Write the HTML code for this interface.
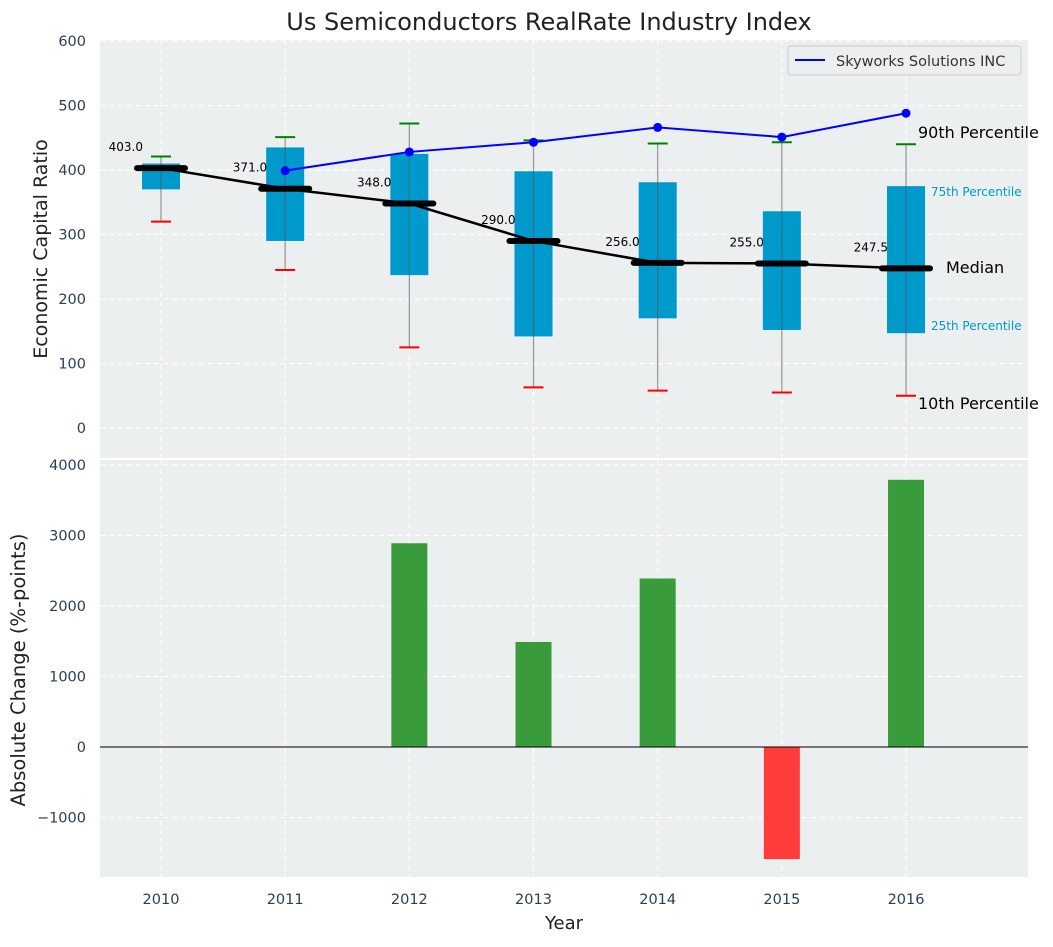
<!DOCTYPE html>
<html><head><meta charset="utf-8"><style>
body{margin:0;background:#fff;font-family:"Liberation Sans","DejaVu Sans",sans-serif}
svg text{font-family:"DejaVu Sans","Liberation Sans",sans-serif}
</style></head><body>
<svg id="c" width="1053" height="942" xmlns="http://www.w3.org/2000/svg"></svg>
<script>
const years=[2010,2011,2012,2013,2014,2015,2016];
const p10=[320,245,125,63,58,55,50];
const p25=[370,290,237,142,170,152,147];
const p75=[410,435,425,398,381,336,375];
const p90=[421,451,472,446,441,443,440];
const medians=[403,371,348,290,256,255,247.5];
const skyYears=[2011,2012,2013,2014,2015,2016];
const skyVals=[399,428,443,466,451,488];
const changeYears=[2012,2013,2014,2015,2016];
const changeVals=[2890,1490,2390,-1590,3790];
const topTicks=[0,100,200,300,400,500,600];
const botTicks=[-1000,0,1000,2000,3000,4000];

const NS="http://www.w3.org/2000/svg";
const svg=document.getElementById('c');
function el(t,a,p){const e=document.createElementNS(NS,t);for(const k in a)e.setAttribute(k,a[k]);(p||svg).appendChild(e);return e;}
const L=100,R=1028;
const x=y=>161+(y-2010)*124.17;
const yT=v=>428-v*0.645;
const yB=v=>747-v*0.0705;

let bg=el('rect',{x:L,y:40,width:R-L,height:418,fill:'#ebeff0'});

let bg2=el('rect',{x:L,y:460,width:R-L,height:417,fill:'#ebeff0'});


for(const yy of years){
 el('line',{x1:x(yy),x2:x(yy),y1:40,y2:458,stroke:'#fff','stroke-dasharray':'5,4','stroke-width':1});
 el('line',{x1:x(yy),x2:x(yy),y1:460,y2:877,stroke:'#fff','stroke-dasharray':'5,4','stroke-width':1});
 const t=el('text',{x:x(yy),y:904,'text-anchor':'middle','font-size':14.5,fill:'#2c3e50'});t.textContent=yy;
 
}
for(const v of topTicks){
 el('line',{x1:L,x2:R,y1:yT(v),y2:yT(v),stroke:'#fff','stroke-dasharray':'5,4'});
 const t=el('text',{x:86,y:yT(v)+5,'text-anchor':'end','font-size':14.5,fill:'#2c3e50'});t.textContent=v;
 
}
for(const v of botTicks){
 el('line',{x1:L,x2:R,y1:yB(v),y2:yB(v),stroke:'#fff','stroke-dasharray':'5,4'});
 const t=el('text',{x:86,y:yB(v)+5,'text-anchor':'end','font-size':14.5,fill:'#2c3e50'});t.textContent=(v<0?'\u2212'+(-v):v);
 
}

years.forEach((yy,i)=>{
 const cx=x(yy);
 const b=el('rect',{x:cx-19,y:yT(p75[i]),width:38,height:yT(p25[i])-yT(p75[i]),fill:'#0099cc'});
 
 el('line',{x1:cx,x2:cx,y1:yT(p90[i]),y2:yT(p10[i]),stroke:'#555','stroke-opacity':0.6,'stroke-width':1.2});
 const c1=el('line',{x1:cx-10,x2:cx+10,y1:yT(p90[i]),y2:yT(p90[i]),stroke:'green','stroke-width':2});
 
 const c2=el('line',{x1:cx-10,x2:cx+10,y1:yT(p10[i]),y2:yT(p10[i]),stroke:'red','stroke-width':2});
 
});
const ml=el('polyline',{points:years.map((yy,i)=>x(yy)+','+yT(medians[i])).join(' '),fill:'none',stroke:'#000','stroke-width':2.5});

years.forEach((yy,i)=>{
 const m=el('line',{x1:x(yy)-24,x2:x(yy)+24,y1:yT(medians[i]),y2:yT(medians[i]),stroke:'#000','stroke-width':6,'stroke-linecap':'round'});
 
 const t=el('text',{x:x(yy)-18,y:yT(medians[i])-17,'text-anchor':'end','font-size':12,fill:'#000'});t.textContent=medians[i].toFixed(1);
 
});
const sl=el('polyline',{points:skyYears.map((yy,i)=>x(yy)+','+yT(skyVals[i])).join(' '),fill:'none',stroke:'#0000ff','stroke-width':2});

skyYears.forEach((yy,i)=>{const p=el('circle',{cx:x(yy),cy:yT(skyVals[i]),r:4.5,fill:'#0000ff'});
 });

const ann=[['90th Percentile',918,138,16,'#000'],['75th Percentile',931,196,12,'#0099cc'],['Median',946,273,16,'#000'],['25th Percentile',931,330,12,'#0099cc'],['10th Percentile',918,409,16,'#000']];
for(const a of ann){const t=el('text',{x:a[1],y:a[2],'font-size':a[3],fill:a[4]});t.textContent=a[0];
 }

const lg=el('g',{});
el('rect',{x:788,y:46,width:233,height:29,fill:'#ebeff0',stroke:'#ccc',rx:3},lg);
el('line',{x1:795,x2:825,y1:60,y2:60,stroke:'#0000ff','stroke-width':2},lg);
const lt=el('text',{x:836,y:66,'font-size':14.5,fill:'#333'},lg);lt.textContent='Skyworks Solutions INC';

changeYears.forEach((yy,i)=>{const v=changeVals[i];
 const b=el('rect',{x:x(yy)-18,y:Math.min(yB(v),yB(0)),width:36,height:Math.abs(yB(v)-yB(0)),fill:v>=0?'#3a9b3c':'#ff3c3c'});
 });
el('line',{x1:L,x2:R,y1:yB(0),y2:yB(0),stroke:'#000','stroke-width':1});

let t=el('text',{x:549,y:30,'text-anchor':'middle','font-size':24,fill:'#222'});t.textContent='Us Semiconductors RealRate Industry Index';

t=el('text',{x:564,y:929,'text-anchor':'middle','font-size':18,fill:'#222'});t.textContent='Year';

t=el('text',{x:47,y:249,'text-anchor':'middle','font-size':19,fill:'#222',transform:'rotate(-90 47 249)'});t.textContent='Economic Capital Ratio';

t=el('text',{x:25,y:670,'text-anchor':'middle','font-size':19.5,fill:'#222',transform:'rotate(-90 25 670)'});t.textContent='Absolute Change (%-points)';

</script>
</body></html>
